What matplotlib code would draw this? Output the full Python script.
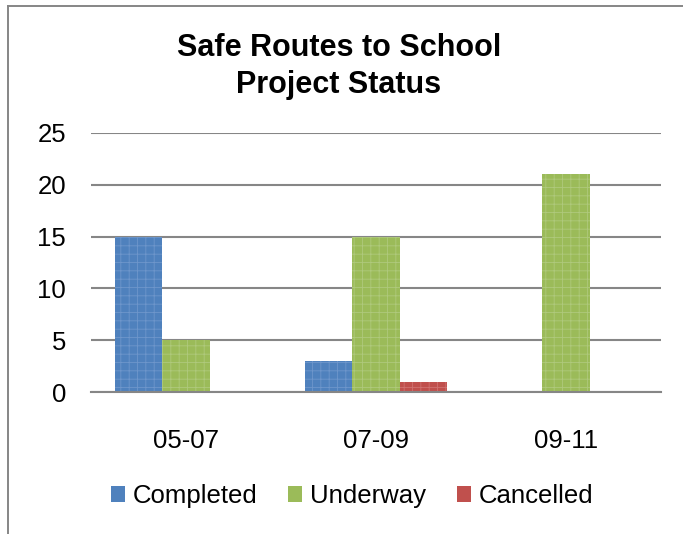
import numpy as np
import matplotlib
matplotlib.use("Agg")
import matplotlib.pyplot as plt
from matplotlib.lines import Line2D

plt.rcParams.update({"font.family": ["Liberation Sans", "DejaVu Sans"], "hatch.linewidth": 0.6})

# data
periods = ["05-07", "07-09", "09-11"]
completed = [15, 3, 0]
underway = [5, 15, 21]
cancelled = [0, 1, 0]
series = ["Completed", "Underway", "Cancelled"]
y_ticks = [0, 5, 10, 15, 20, 25]

FACE = ["#4F81BD", "#9BBB59", "#C0504D"]
DOTS = ["#6E96CB", "#AFC97C", "#D07270"]
GRID = "#868686"

fig = plt.figure(figsize=(6.83, 5.34), dpi=100)
ax = fig.add_axes([91 / 683, 142 / 534, 570 / 683, 259 / 534])

x = np.arange(len(periods))
w = 0.25
for i, (name, vals) in enumerate(zip(series, [completed, underway, cancelled])):
    xs = x + (i - 1) * w
    ax.bar(xs, vals, w, color=FACE[i], linewidth=0, label=name, zorder=3)
    ax.bar(xs, vals, w, fill=False, hatch="++", edgecolor=DOTS[i], linewidth=0, zorder=4)

ax.set_xlim(-0.5, 2.5)
ax.set_ylim(0, 25)
ax.set_yticks(y_ticks)
ax.set_xticks(x)
ax.set_xticklabels(periods)
ax.tick_params(axis="both", length=0, labelsize=18.5)
ax.tick_params(axis="y", pad=18)
ax.tick_params(axis="x", pad=27)
ax.grid(axis="y", color=GRID, linewidth=1.5, zorder=0)
for s in ["top", "right", "left"]:
    ax.spines[s].set_visible(False)
ax.spines["bottom"].set_color(GRID)
ax.spines["bottom"].set_linewidth(1.5)
ax.spines["bottom"].set_zorder(5)

fig.text(339 / 683, 1 - 56 / 534, "Safe Routes to School", ha="center", va="baseline",
         fontsize=22, fontweight="bold")
fig.text(339 / 683, 1 - 93 / 534, "Project Status", ha="center", va="baseline",
         fontsize=22, fontweight="bold")

handles, labels = ax.get_legend_handles_labels()
leg = fig.legend(handles, labels, loc="center", bbox_to_anchor=(352 / 683, 1 - 496 / 534),
                 ncol=3, frameon=False, fontsize=18.5, handlelength=0.55, handleheight=0.55,
                 handletextpad=0.3, columnspacing=1.2)

# chart border: only the left and top edges fall inside the crop
bx, by = 8 / 683, 1 - 6 / 534
fig.add_artist(Line2D([bx, bx], [0, by], transform=fig.transFigure, color=GRID, linewidth=1.4))
fig.add_artist(Line2D([bx, 1], [by, by], transform=fig.transFigure, color=GRID, linewidth=1.4))

fig.savefig("out.png", dpi=100)
